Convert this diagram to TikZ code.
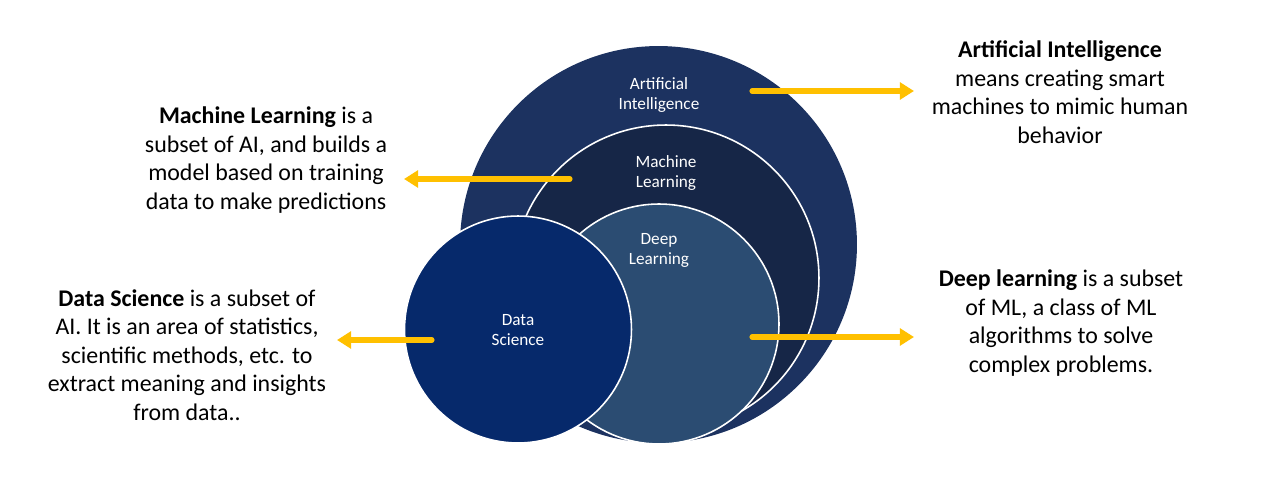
\documentclass[tikz,border=0pt]{standalone}
\usepackage{fontspec}
\setmainfont{Carlito}
\usepackage{tikz}
\usetikzlibrary{arrows.meta,positioning}

\definecolor{aiblue}{HTML}{1C3260}
\definecolor{mlblue}{HTML}{162647}
\definecolor{dlblue}{HTML}{2B4C72}
\definecolor{dsblue}{HTML}{06296B}
\definecolor{arrowgold}{HTML}{FFC000}

\tikzset{
  ring/.style={circle, inner sep=0pt, outer sep=0pt, draw=white, line width=0.9pt},
  ringlabel/.style={text=white, align=center, font=\fontsize{9.8}{11.4}\selectfont},
  note/.style={text=black, align=center, font=\fontsize{13.6}{16.2}\selectfont},
  pointer/.style={draw=arrowgold, line width=2.9pt, line cap=round,
    -{Triangle[width=9.5pt,length=8pt]}}
}

\begin{document}
\begin{tikzpicture}[x=0.02cm, y=-0.02cm]
			\useasboundingbox (0,0) rectangle (1279,493);
			% circles
			\node[ring, draw=none, fill=aiblue, minimum size=7.94cm] (ai) at (658.5,244.5) {};
			\node[ring, fill=mlblue, minimum size=6.12cm] (ml) at (666,278) {};
			\node[ring, fill=dlblue, minimum size=4.8cm] (dl) at (659,324) {};
			\node[ring, fill=dsblue, minimum size=4.54cm] (ds) at (518,329.5) {};
			% circle labels
			\node[ringlabel] (ai_l) at (659,95) {Artificial\\Intelligence};
			\node[ringlabel] (ml_l) at (666,173) {Machine\\Learning};
			\node[ringlabel] (dl_l) at (659,250) {Deep\\Learning};
			\node[ringlabel] (ds_l) at (518,330) {Data\\Science};
			% side notes
			\node[note] (ai_t) at (1060,92) {\textbf{Artificial Intelligence}\\means creating smart\\machines to mimic human\\behavior};
			\node[note] (ml_t) at (266,160) {\textbf{Machine Learning} is a\\subset of AI, and builds a\\model based on training\\data to make predictions};
			\node[note] (ds_t) at (187,355) {\textbf{Data Science} is a subset of\\AI. It is an area of statistics,\\scientific methods, etc. to\\extract meaning and insights\\from data..};
			\node[note] (dl_t) at (1061,323) {\textbf{Deep learning} is a subset\\of ML, a class of ML\\algorithms to solve\\complex problems.};
			% arrows
			\coordinate (ai_a) at (752,91);
			\coordinate (ai_b) at (914,91);
			\coordinate (ml_a) at (570,179);
			\coordinate (ml_b) at (404,179);
			\coordinate (ds_a) at (432,340);
			\coordinate (ds_b) at (337,340);
			\coordinate (dl_a) at (752,337);
			\coordinate (dl_b) at (914,337);
			\draw[pointer] (ai_a) -- (ai_b);
			\draw[pointer] (ml_a) -- (ml_b);
			\draw[pointer] (ds_a) -- (ds_b);
			\draw[pointer] (dl_a) -- (dl_b);
		\end{tikzpicture}
\end{document}
